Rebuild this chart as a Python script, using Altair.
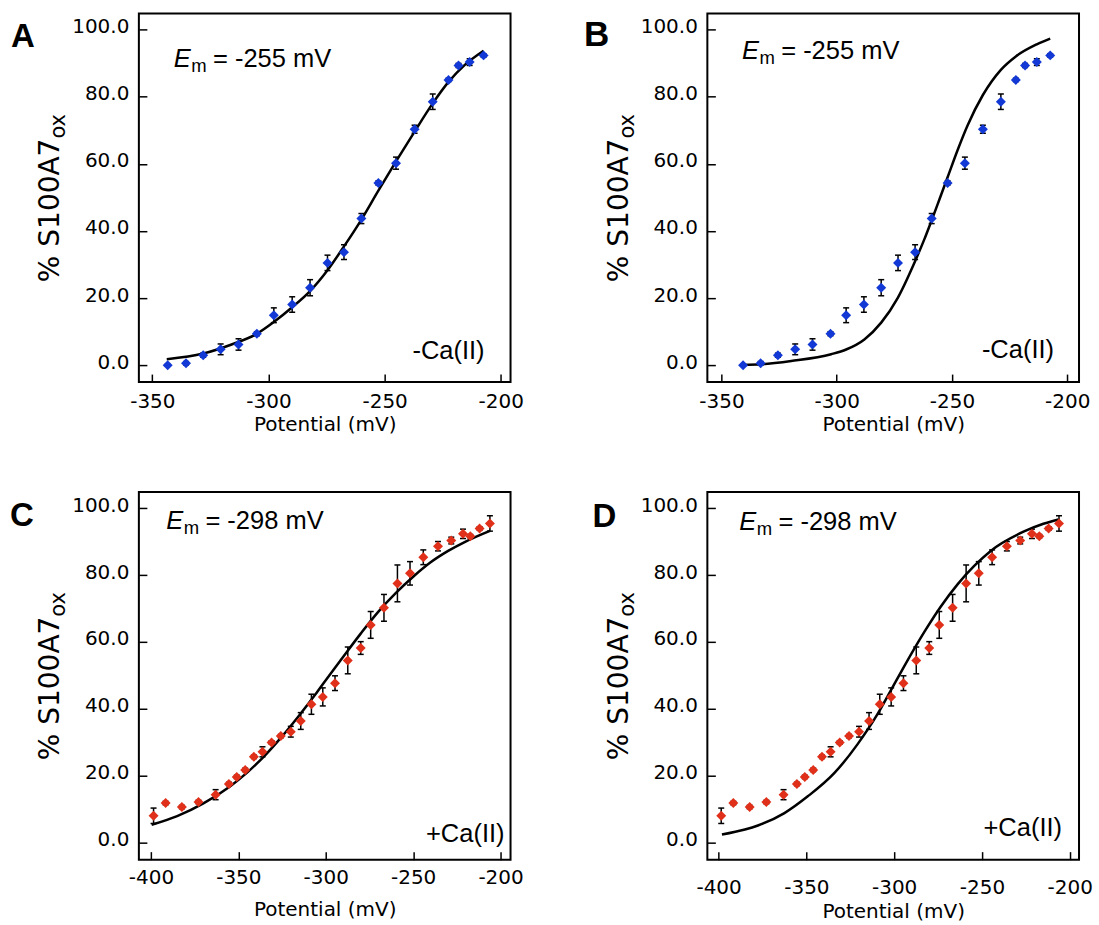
import altair as alt
import pandas as pd

# ---------------- data ----------------
# -Ca(II) data (panels A and B)
A_x = [-343.4, -335.5, -328.1, -320.6, -312.9, -305.0, -297.7, -289.8, -282.1, -274.6,
       -267.5, -260.0, -252.7, -245.1, -237.1, -229.3, -222.5, -218.2, -213.4, -207.4]
B_x = [-340.6, -333.0, -325.5, -318.0, -310.5, -302.7, -295.9, -288.2, -280.7, -273.4,
       -266.0, -258.8, -251.9, -244.4, -236.6, -228.8, -222.3, -218.3, -213.2, -207.4]
noCa_y = [0.0, 0.6, 3.0, 4.75, 6.2, 9.4, 14.9, 18.1, 23.1, 30.5,
          33.7, 43.7, 54.3, 60.2, 70.3, 78.5, 85.0, 89.3, 90.3, 92.3]
noCa_err = [0.3, 0.5, 0.6, 1.6, 1.7, 0.6, 2.2, 2.3, 2.4, 2.3,
            2.2, 1.5, 0.6, 1.8, 1.2, 2.3, 0.5, 0.6, 1.0, 0.5]

# +Ca(II) data (panels C and D)
Ca_x = [-398.5, -391.6, -382.3, -372.8, -363.0, -355.4, -350.9, -346.1, -341.1, -336.2,
        -331.0, -325.7, -320.0, -314.3, -308.2, -301.7, -294.7, -287.4, -280.0, -274.3,
        -266.7, -259.0, -251.8, -244.2, -235.8, -228.2, -221.5, -217.3, -212.0, -206.1]
Ca_y = [8.1, 11.9, 10.7, 12.2, 14.4, 17.6, 19.7, 21.8, 25.7, 27.2,
        30.0, 31.9, 33.2, 36.4, 41.4, 43.6, 47.7, 54.5, 58.2, 65.1,
        70.2, 77.5, 80.5, 85.3, 88.6, 90.3, 92.3, 91.6, 93.9, 95.4]
Ca_err = [2.3, 0.5, 0.5, 0.5, 1.5, 0.5, 0.5, 0.5, 0.5, 1.5,
          0.5, 0.5, 1.6, 2.5, 3.0, 2.7, 2.2, 4.0, 1.9, 4.0,
          4.0, 5.5, 3.5, 2.2, 1.4, 1.0, 1.4, 0.5, 0.5, 2.3]

# fitted curves
A_fit_x = [-343.8, -328.1, -315.9, -305.0, -297.7, -289.8, -282.1, -274.6, -267.5,
           -260.0, -252.7, -245.1, -237.1, -229.3, -222.5, -215.6, -207.4]
A_fit_y = [1.8, 3.5, 6.2, 9.4, 12.9, 17.3, 22.1, 28.3, 35.4,
           43.4, 52.0, 60.7, 69.6, 78.0, 84.4, 89.4, 93.7]
B_fit_x = [-340.6, -333.0, -319.7, -302.4, -295.9, -288.0, -280.7, -273.5, -266.0, -262.0,
           -258.8, -255.5, -251.9, -247.5, -243.2, -236.6, -228.8, -222.3, -213.2, -207.4]
B_fit_y = [0.1, 0.3, 1.3, 3.3, 4.7, 7.7, 12.7, 20.1, 31.0, 37.5,
           43.2, 49.3, 56.0, 64.2, 71.5, 80.5, 88.0, 92.0, 95.6, 97.3]
C_fit_x = [-399.6, -385, -370, -355, -345, -335, -325, -315, -305, -298,
           -290, -280, -270, -260, -250, -240, -230, -220, -206.1]
C_fit_y = [5.4, 8.0, 11.8, 16.8, 21.0, 26.0, 31.8, 38.2, 45.0, 50.0,
           55.6, 62.5, 69.0, 74.6, 79.5, 83.8, 87.2, 90.0, 93.2]
D_fit_x = [-398.1, -385, -377.6, -362.5, -349.2, -334, -320.8, -309.4, -301.8,
           -294.2, -282.8, -273.4, -263.9, -254.4, -245, -226, -215, -206.4]
D_fit_y = [2.5, 4.0, 5.2, 8.9, 13.9, 20.9, 29.5, 38.5, 45.6,
           52.8, 63.0, 70.6, 77.2, 82.7, 87.2, 93.0, 95.3, 96.6]

ticks_AB = [-350, -300, -250, -200]
ticks_CD = [-400, -350, -300, -250, -200]
y_ticks = [0, 20, 40, 60, 80, 100]

BLUE = "#1238d6"
RED = "#e0301a"
SANS = "Liberation Sans"
AXF = "DejaVu Sans"

YT_MAIN = 28      # y-title font size
YT_SUB = 21       # subscript size
YT_MAIN_W = 5.131 * YT_MAIN   # approximate advance of "% S100A7" in DejaVu Sans
YT_TOTAL = YT_MAIN_W + 1.204 * YT_SUB


def txt(s, x, y, size, align="left", style="normal", weight="normal", font=SANS, angle=0):
    return alt.Chart(pd.DataFrame({"t": [s]})).mark_text(
        align=align, baseline="alphabetic", font=font, fontSize=size,
        fontStyle=style, fontWeight=weight, color="black", angle=angle
    ).encode(text="t:N", x=alt.value(x), y=alt.value(y))


def panel(px, py, perr, fx, fy, color, xdom, xticks, letter, letter_xy, letter_size,
          em_val, em_xy, ca_label, ca_xy, xlabpad, xtitlepad, h):
    pts = pd.DataFrame({
        "x": px, "y": py,
        "lo": [a - b for a, b in zip(py, perr)],
        "hi": [a + b for a, b in zip(py, perr)],
    })
    fit = pd.DataFrame({"x": fx, "y": fy})
    xs = alt.Scale(domain=xdom, nice=False, zero=False)
    ys = alt.Scale(domain=[-5, 104.8], nice=False, zero=False)
    xax = alt.Axis(values=xticks, labelExpr="datum.value + ''", title="Potential (mV)",
                   grid=False, domain=False, offset=-8, tickSize=8, tickWidth=1.5,
                   tickColor="black", labelFont=AXF, labelFontSize=20, labelColor="black",
                   labelPadding=xlabpad, titleFont=AXF, titleFontSize=20,
                   titleFontWeight="normal", titleColor="black", titlePadding=xtitlepad)
    yax = alt.Axis(values=y_ticks, format=".1f", title=None,
                   grid=False, domain=False, offset=-8, tickSize=8, tickWidth=1.5,
                   tickColor="black", labelFont=AXF, labelFontSize=20, labelColor="black",
                   labelPadding=10, labelOffset=-3)

    line = alt.Chart(fit).mark_line(color="black", strokeWidth=2.5, interpolate="monotone").encode(
        x=alt.X("x:Q", scale=xs, axis=xax), y=alt.Y("y:Q", scale=ys, axis=yax))
    bars = alt.Chart(pts).mark_rule(color="black", strokeWidth=1.5).encode(
        x="x:Q", y="lo:Q", y2="hi:Q")
    cap_hi = alt.Chart(pts).mark_tick(orient="horizontal", color="black", size=6,
                                      thickness=1.5, opacity=1).encode(x="x:Q", y="hi:Q")
    cap_lo = alt.Chart(pts).mark_tick(orient="horizontal", color="black", size=6,
                                      thickness=1.5, opacity=1).encode(x="x:Q", y="lo:Q")
    dots = alt.Chart(pts).mark_point(shape="diamond", filled=True, size=100,
                                     color=color, opacity=1).encode(x="x:Q", y="y:Q")
    ex, ey = em_xy
    y_bottom = h / 2 + YT_TOTAL / 2
    texts = [
        txt(letter, letter_xy[0], letter_xy[1], letter_size, weight="bold"),
        txt("E", ex, ey, 25.5, style="italic"),
        txt("m", ex + 17.4, ey + 5, 18.5),
        txt("= -%d mV" % em_val, ex + 39.2, ey, 25.5),
        txt(ca_label, ca_xy[0], ca_xy[1], 25.5, align="right"),
        txt("% S100A7", -79.5, y_bottom, YT_MAIN, font=AXF, angle=270),
        txt("ox", -73.5, y_bottom - YT_MAIN_W, YT_SUB, font=AXF, angle=270),
    ]
    return alt.layer(line, bars, cap_hi, cap_lo, dots, *texts).properties(width=372, height=h)


pA = panel(A_x, noCa_y, noCa_err, A_fit_x, A_fit_y, BLUE, [-355.8, -195.8], ticks_AB,
           "A", (-128, 33.4), 33, 255, (35, 53.4), "-Ca(II)", (346, 346), 9.5, 3, 369)
pB = panel(B_x, noCa_y, noCa_err, B_fit_x, B_fit_y, BLUE, [-356.1, -194.9], ticks_AB,
           "B", (-123.5, 32.7), 35, 255, (34.7, 46), "-Ca(II)", (347, 345), 9.5, 3, 369)
pC = panel(Ca_x, Ca_y, Ca_err, C_fit_x, C_fit_y, RED, [-406.9, -194.3], ticks_CD,
           "C", (-129, 34), 33, 298, (27.4, 36.6), "+Ca(II)", (366, 350.6), 8, 12, 368)
pD = panel(Ca_x, Ca_y, Ca_err, D_fit_x, D_fit_y, RED, [-406.4, -194.7], ticks_CD,
           "D", (-115, 35), 33, 298, (32, 38), "+Ca(II)", (355, 344), 18, 4, 368)

chart = alt.concat(pA, pB, pC, pD, columns=2, spacing={"row": 110, "column": 197},
                   bounds="flush").properties(
    padding={"left": 9, "top": 12, "right": 5, "bottom": 0}
).configure(
    background="white",
    view=alt.ViewConfig(stroke="black", strokeWidth=2),
)

chart.save("out.html", embed_options={"renderer": "svg", "actions": False})
